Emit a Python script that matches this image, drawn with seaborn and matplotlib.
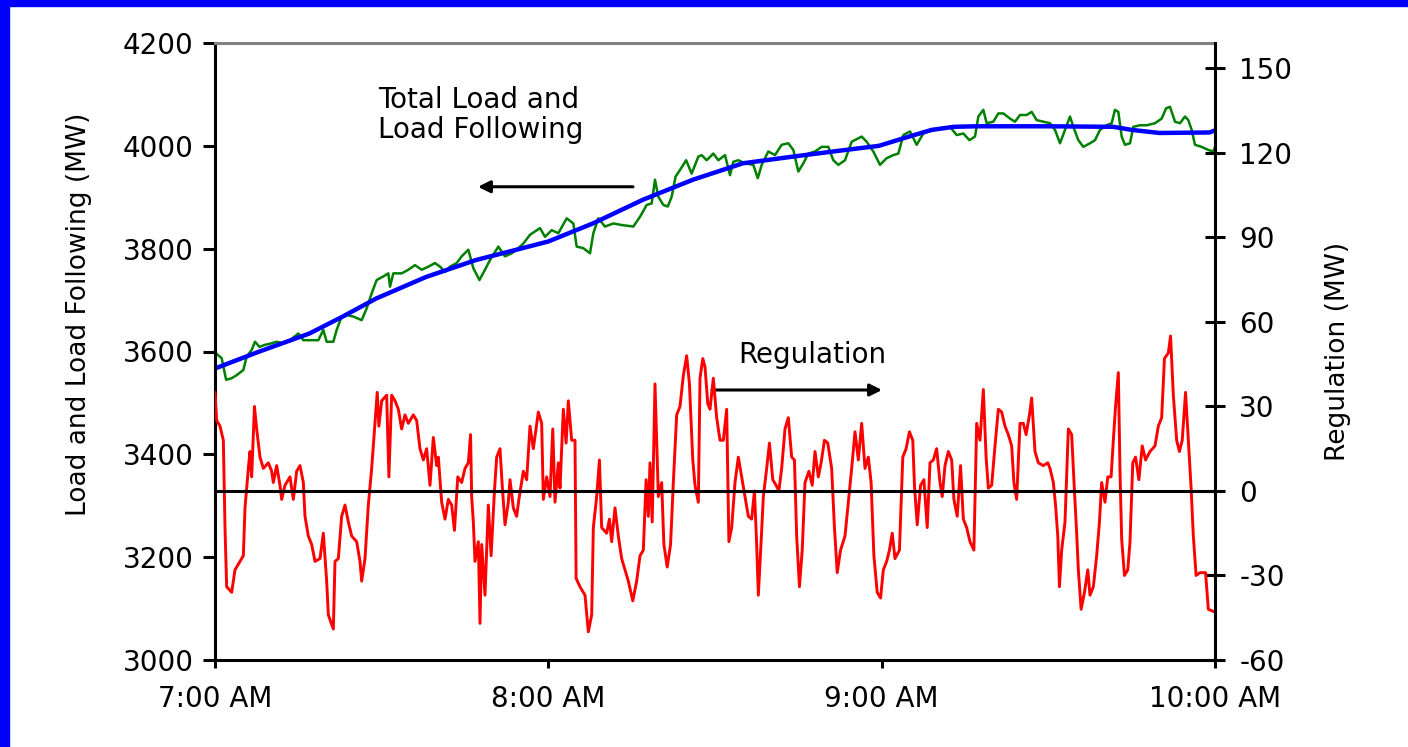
import matplotlib
matplotlib.use('Agg')
import seaborn as sns
from matplotlib import pyplot as plt
import matplotlib.patches as mpatches

# minutes after 7:00 AM
reg_minutes = [
    0, 0.3, 0.9, 1.5, 1.8, 2.1, 3.0, 3.6, 4.5, 5.1,
    5.4, 6.0, 6.3, 6.6, 7.1, 7.5, 8.1, 8.7, 9.6, 10.2,
    10.5, 11.1, 11.7, 12.0, 12.6, 13.5, 14.1, 14.7, 15.3, 15.9,
    16.2, 16.8, 17.4, 18.0, 18.9, 19.5, 20.1, 20.4, 21.3, 21.6,
    22.2, 22.8, 23.4, 24.0, 24.6, 25.5, 26.1, 26.4, 27.0, 27.6,
    28.2, 28.8, 29.2, 29.5, 30.0, 30.9, 31.3, 31.8, 32.4, 33.0,
    33.6, 34.2, 34.8, 35.7, 36.3, 36.9, 37.5, 38.1, 38.7, 39.3,
    39.9, 40.2, 40.8, 41.4, 42.0, 42.6, 43.1, 43.7, 44.4, 45.0,
    45.6, 46.0, 46.2, 46.5, 46.8, 47.4, 47.7, 48.0, 48.6, 49.2,
    49.7, 50.3, 50.7, 51.3, 51.7, 52.2, 52.8, 53.1, 53.7, 54.3,
    54.7, 55.5, 56.1, 56.7, 57.3, 58.2, 58.8, 59.1, 59.7, 60.3,
    60.8, 61.2, 61.8, 62.1, 62.7, 63.2, 63.6, 64.2, 64.8, 65.0,
    65.7, 66.6, 67.2, 67.8, 68.1, 68.7, 69.2, 69.6, 70.5, 71.0,
    71.4, 72.0, 72.6, 73.2, 73.8, 74.4, 75.2, 75.9, 76.5, 77.1,
    77.6, 78.0, 78.3, 78.7, 79.2, 79.8, 80.4, 80.8, 81.4, 82.0,
    82.5, 83.1, 83.7, 84.3, 84.9, 85.4, 86.0, 86.4, 87.0, 87.3,
    87.8, 88.2, 88.7, 89.1, 89.7, 90.3, 90.9, 91.5, 92.1, 92.5,
    93.0, 93.6, 94.2, 94.8, 95.4, 96.0, 96.6, 97.1, 97.5, 97.8,
    98.3, 98.7, 99.3, 99.8, 100.4, 101.0, 101.5, 102.0, 102.6, 103.2,
    103.8, 104.3, 104.7, 105.2, 105.7, 106.2, 106.9, 107.5, 108.0, 108.6,
    109.1, 109.7, 110.3, 111.0, 111.5, 112.0, 112.6, 113.4, 114.0, 114.6,
    115.2, 115.8, 116.4, 117.0, 117.6, 118.1, 118.6, 119.2, 119.8, 120.3,
    120.9, 121.4, 121.9, 122.4, 123.2, 123.8, 124.4, 125.0, 125.6, 125.9,
    126.4, 127.0, 127.6, 128.2, 128.7, 129.3, 129.9, 130.5, 130.9, 131.4,
    132.0, 132.6, 133.0, 133.6, 134.2, 134.7, 135.3, 135.9, 136.6, 137.1,
    137.7, 138.3, 138.8, 139.2, 139.8, 140.4, 141.0, 141.6, 142.2, 142.8,
    143.4, 143.8, 144.3, 144.9, 145.5, 146.0, 146.6, 147.0, 147.6, 148.2,
    149.1, 149.9, 150.3, 150.9, 151.3, 151.7, 152.0, 152.4, 153.0, 153.6,
    154.2, 154.7, 155.1, 155.4, 155.9, 156.5, 157.1, 157.5, 158.1, 158.7,
    159.2, 159.6, 160.2, 160.7, 161.3, 161.7, 162.1, 162.6, 162.9, 163.2,
    163.7, 164.3, 164.7, 165.2, 165.7, 166.3, 166.9, 167.5, 168.3, 169.2,
    169.8, 170.4, 170.9, 171.6, 172.0, 172.5, 173.1, 173.6, 174.1, 174.7,
    175.2, 175.7, 176.1, 176.6, 177.3, 178.3, 178.8, 180.0,
]
reg_mw = [
    35, 25, 23, 18, -13, -34, -36, -28, -25, -23,
    -6, 8, 14, 5, 30, 22, 12, 8, 10, 7,
    3, 9, 2, -3, 2, 5, -3, 7, 9, 3,
    -9, -16, -19, -25, -24, -15, -32, -44, -49, -25,
    -24, -9, -5, -11, -16, -18, -25, -32, -24, -5,
    8, 24, 35, 23, 32, 34, 5, 34, 32, 29,
    22, 27, 24, 27, 25, 15, 11, 15, 2, 19,
    9, 12, -4, -10, -3, -5, -14, 5, 3, 8,
    10, 20, -2, -11, -25, -18, -47, -19, -37, -5,
    -23, 0, 12, 15, 2, -12, -4, 4, -6, -9,
    -3, 7, 4, 23, 15, 28, 24, -3, 5, -2,
    22, -4, 10, 1, 29, 17, 32, 18, 18, -31,
    -34, -37, -50, -44, -13, -2, 11, -13, -15, -10,
    -18, -6, -16, -24, -28, -32, -39, -32, -23, -21,
    4, -9, 10, -11, 38, -2, 3, -19, -27, -19,
    3, 27, 30, 41, 48, 38, 11, 2, -4, 40,
    47, 44, 31, 29, 40, 26, 18, 18, 29, -18,
    -13, 3, 12, 5, -2, -9, -10, 0, -19, -37,
    -18, -2, 8, 17, 4, 2, 0, 8, 22, 26,
    12, 11, -16, -34, -21, 3, 7, 2, 14, 5,
    10, 18, 17, 8, -13, -29, -21, -16, -4, 8,
    21, 11, 24, 8, 12, 3, -23, -36, -38, -28,
    -25, -21, -15, -24, -21, 12, 15, 21, 18, 2,
    -12, 2, 4, -13, 10, 11, 15, 3, -2, 9,
    14, 11, -3, -9, 9, -10, -13, -18, -21, 24,
    18, 36, 12, 1, 2, 16, 29, 28, 23, 20,
    16, 3, -3, 24, 24, 20, 27, 33, 14, 10,
    9, 10, 8, 3, -5, -16, -34, -21, -11, 22,
    20, 0, -15, -28, -42, -36, -28, -37, -34, -23,
    -11, 3, -4, 5, 5, 18, 30, 42, 7, -17,
    -30, -28, -18, 10, 12, 4, 16, 11, 14, 16,
    23, 26, 47, 49, 55, 34, 18, 14, 18, 35,
    18, 1, -16, -30, -29, -29, -42, -43,
]

load_minutes = [
    0, 1.2, 2.0, 3.0, 3.9, 5.1, 5.7, 6.6, 7.2, 8.0,
    9.0, 10.2, 11.1, 12.3, 13.5, 15.0, 15.9, 17.1, 18.6, 19.5,
    20.1, 21.3, 21.9, 22.8, 23.7, 24.9, 26.4, 27.3, 28.2, 29.1,
    30.3, 31.2, 31.5, 32.1, 33.6, 34.8, 36.0, 37.2, 38.4, 39.6,
    40.5, 41.4, 42.3, 43.5, 44.4, 45.6, 46.5, 47.6, 48.6, 49.5,
    51.0, 52.2, 53.4, 54.3, 55.5, 56.7, 58.5, 59.4, 60.6, 61.8,
    63.3, 64.5, 65.1, 66.3, 67.5, 68.1, 69.0, 70.2, 71.7, 73.2,
    75.3, 76.5, 77.7, 78.6, 79.2, 79.8, 80.7, 81.5, 82.2, 82.9,
    83.7, 84.8, 85.8, 87.0, 87.6, 88.5, 89.7, 90.6, 91.8, 92.7,
    93.3, 94.2, 95.4, 96.9, 97.7, 98.4, 99.6, 100.8, 102.0, 103.2,
    104.1, 105.0, 105.9, 106.8, 108.0, 109.2, 110.4, 111.3, 112.2, 113.4,
    114.6, 116.4, 117.3, 118.5, 119.7, 120.9, 122.1, 123.0, 123.9, 125.1,
    126.3, 127.5, 128.4, 129.6, 130.8, 132.3, 133.5, 134.7, 135.8, 136.8,
    137.4, 138.3, 138.9, 140.1, 141.0, 141.9, 143.1, 144.0, 144.9, 146.1,
    147.0, 147.9, 149.1, 150.3, 151.2, 152.1, 153.0, 153.9, 154.5, 155.4,
    156.3, 157.5, 158.4, 159.3, 160.5, 161.4, 162.0, 162.6, 163.2, 163.8,
    164.7, 165.3, 166.5, 167.7, 169.2, 170.4, 171.2, 171.9, 172.8, 173.7,
    174.6, 175.2, 175.8, 176.4, 177.6, 178.8, 179.7, 180.0,
]
load_mw = [
    3598, 3587, 3545, 3548, 3554, 3564, 3590, 3603, 3619, 3609,
    3613, 3616, 3619, 3616, 3622, 3635, 3622, 3622, 3622, 3642,
    3619, 3619, 3642, 3668, 3671, 3668, 3661, 3684, 3713, 3739,
    3746, 3752, 3726, 3752, 3752, 3759, 3768, 3759, 3765, 3772,
    3765, 3755, 3765, 3772, 3785, 3798, 3762, 3739, 3759, 3778,
    3804, 3785, 3791, 3798, 3810, 3827, 3840, 3823, 3836, 3830,
    3859, 3849, 3804, 3801, 3791, 3830, 3859, 3843, 3849, 3846,
    3843, 3862, 3885, 3888, 3934, 3901, 3885, 3882, 3901, 3940,
    3953, 3972, 3946, 3979, 3982, 3972, 3985, 3972, 3982, 3943,
    3969, 3972, 3966, 3963, 3937, 3963, 3989, 3982, 4002, 4005,
    3992, 3950, 3966, 3985, 3989, 3998, 3998, 3972, 3963, 3972,
    4008, 4018, 4008, 3989, 3963, 3976, 3982, 3985, 4021, 4028,
    4002, 4024, 4028, 4031, 4034, 4037, 4021, 4024, 4011, 4018,
    4057, 4070, 4044, 4047, 4063, 4063, 4053, 4047, 4060, 4060,
    4066, 4050, 4047, 4044, 4031, 4005, 4031, 4057, 4037, 4011,
    3998, 4005, 4011, 4031, 4040, 4044, 4070, 4066, 4018, 4002,
    4005, 4037, 4040, 4040, 4044, 4053, 4073, 4076, 4047, 4044,
    4057, 4050, 4031, 4002, 3998, 3992, 3989, 3998,
]

follow_minutes = [0, 8, 17, 23, 29, 38, 47, 55, 60, 68, 77, 86, 95, 104, 112,
                  119.5, 124, 129, 133, 137, 150, 161.7, 165, 170, 179, 180]
follow_mw = [3567, 3600, 3635, 3668, 3703, 3745, 3778, 3800, 3814, 3849, 3895,
             3934, 3966, 3979, 3990, 4000, 4015, 4031, 4037, 4038, 4038, 4037,
             4031, 4025, 4026, 4030]

time_ticks = [0, 60, 120, 180]
time_labels = ['7:00 AM', '8:00 AM', '9:00 AM', '10:00 AM']
load_ticks = [3000, 3200, 3400, 3600, 3800, 4000, 4200]
reg_ticks = [-60, -30, 0, 30, 60, 90, 120, 150]

sns.set_style('white')
plt.rcParams['font.family'] = ['DejaVu Sans']
plt.rcParams['text.color'] = 'black'
plt.rcParams['axes.labelcolor'] = 'black'
plt.rcParams['axes.unicode_minus'] = False

fig = plt.figure(figsize=(14.08, 7.47), dpi=100)
ax = fig.add_axes([215 / 1408, 87 / 747, 1000 / 1408, 617 / 747])
ax2 = ax.twinx()

sns.lineplot(x=load_minutes, y=load_mw, ax=ax, color='#008000', linewidth=1.8,
             estimator=None)
sns.lineplot(x=follow_minutes, y=follow_mw, ax=ax, color='#0000FF', linewidth=3.2,
             estimator=None)
sns.lineplot(x=reg_minutes, y=reg_mw, ax=ax2, color='#FF0000', linewidth=2.1,
             estimator=None)
ax2.axhline(0, color='black', linewidth=2.2, zorder=3)

ax.set_xlim(0, 180)
ax.set_ylim(3000, 4200)
ax2.set_ylim(-60, 159)
ax.set_xticks(time_ticks)
ax.set_xticklabels(time_labels)
ax.set_yticks(load_ticks)
ax2.set_yticks(reg_ticks)

ax.tick_params(axis='y', direction='out', length=8.5, width=2.2, pad=7,
               labelsize=20, left=True, colors='black')
ax.tick_params(axis='x', direction='out', length=6, width=2.2, pad=12,
               labelsize=20, bottom=True, colors='black')
ax2.tick_params(axis='y', direction='inout', length=15, width=2.2, pad=10,
                labelsize=20, right=True, colors='black')

for side in ['left', 'bottom', 'right']:
    ax.spines[side].set_color('black')
    ax.spines[side].set_linewidth(2.2)
ax.spines['right'].set_visible(False)
ax.spines['top'].set_color('#808080')
ax.spines['top'].set_linewidth(2.2)
for side in ['left', 'bottom', 'top']:
    ax2.spines[side].set_visible(False)
ax2.spines['right'].set_visible(True)
ax2.spines['right'].set_color('black')
ax2.spines['right'].set_linewidth(2.2)

ax.set_xlabel('')
ax.set_ylabel('Load and Load Following (MW)', fontsize=19)
ax.yaxis.set_label_coords(-0.123, 0.56)
ax2.set_ylabel('Regulation (MW)', fontsize=19)
ax2.yaxis.set_label_coords(1.11, 0.5)

ax.text(0.163, 0.93, 'Total Load and\nLoad Following', transform=ax.transAxes,
        fontsize=20, va='top', ha='left', linespacing=1.1)
ax.annotate('', xy=(0.263, 0.767), xytext=(0.418, 0.767), xycoords='axes fraction',
            arrowprops=dict(arrowstyle='-|>', color='black', lw=2.2,
                            mutation_scale=18, shrinkA=0, shrinkB=0))
ax.text(0.523, 0.494, 'Regulation', transform=ax.transAxes, fontsize=20,
        va='center', ha='left')
ax.annotate('', xy=(0.667, 0.4376), xytext=(0.497, 0.4376), xycoords='axes fraction',
            arrowprops=dict(arrowstyle='-|>', color='black', lw=2.2,
                            mutation_scale=18, shrinkA=0, shrinkB=0))

# blue frame on the left and top edge
fig.add_artist(mpatches.Rectangle((0, 0), 9 / 1408, 1, transform=fig.transFigure,
                                  color='#0000FF', zorder=10))
fig.add_artist(mpatches.Rectangle((0, 1 - 6 / 747), 1, 6 / 747, transform=fig.transFigure,
                                  color='#0000FF', zorder=10))

fig.savefig('out.png', dpi=100)
